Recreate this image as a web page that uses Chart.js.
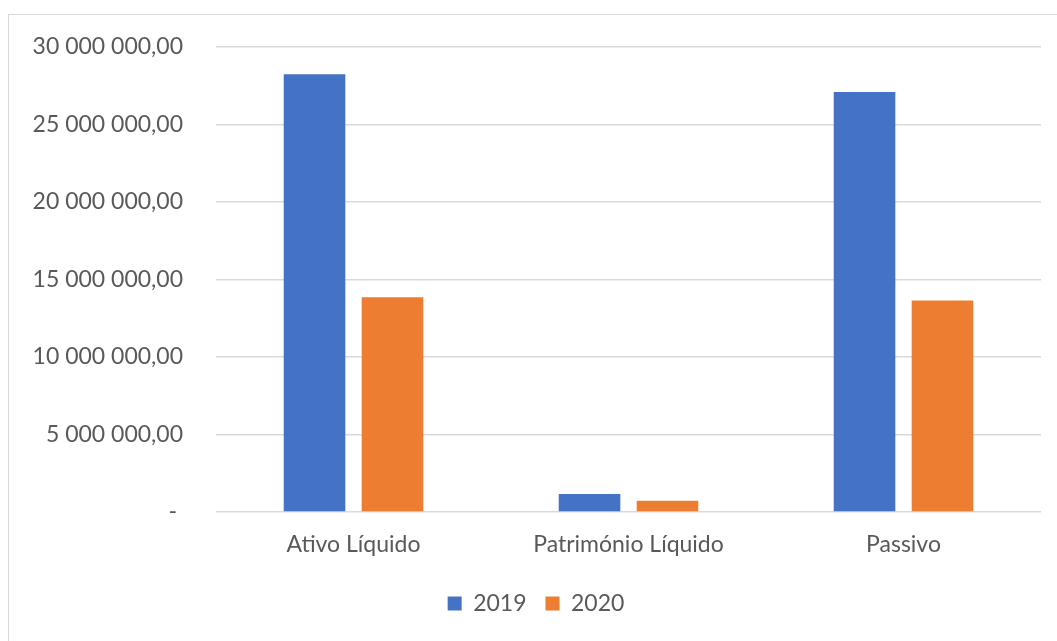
<!DOCTYPE html>
<html lang="pt">
<head>
  <meta charset="UTF-8">
  <title>Ativo / Património / Passivo</title>
  <script src="https://cdn.jsdelivr.net/npm/chart.js"></script>
  <style>
    html, body { margin: 0; padding: 0; background: #fff; overflow: hidden; }
    .frame {
      position: absolute; left: 8px; top: 14px;
      width: 1060px; height: 640px;
      border: 1px solid #d9d9d9;
    }
    .frame canvas { position: absolute; left: 0; top: 0; }
  </style>
</head>
<body>
  <div class="frame">
    <canvas id="myChart" width="1048" height="626"></canvas>
  </div>

  <script>
    // dados
    const categorias = ['Ativo Líquido', 'Património Líquido', 'Passivo'];
    const anos = ['2019', '2020'];
    const valores2019 = [28250000, 1160000, 27100000];
    const valores2020 = [13850000, 720000, 13650000];
    const yMax = 30000000;
    const yStep = 5000000;

    const cinza = '#595959';
    const fonte = { family: 'Lato, "Open Sans", sans-serif', size: 23 };

    // formato contabilístico: 25 000 000,00 e "-" para zero
    function formatar(v) {
      if (v === 0) return '- ';
      return String(v).replace(/\B(?=(\d{3})+(?!\d))/g, ' ') + ',00';
    }

    const ctx = document.getElementById('myChart').getContext('2d');
    const chart = new Chart(ctx, {
      type: 'bar',
      data: {
        labels: categorias,
        datasets: [
          { label: anos[0], data: valores2019, backgroundColor: '#4472C4' },
          { label: anos[1], data: valores2020, backgroundColor: '#ED7D31' }
        ]
      },
      options: {
        responsive: false,
        animation: false,
        categoryPercentage: 0.567,
        barPercentage: 0.79,
        layout: { padding: { top: 32, right: 16, left: 22, bottom: 16 } },
        plugins: {
          tooltip: { enabled: false },
          legend: {
            position: 'bottom',
            labels: {
              color: cinza,
              font: fonte,
              boxWidth: 14,
              boxHeight: 14,
              padding: 19
            }
          }
        },
        scales: {
          x: {
            grid: { display: false },
            border: { display: false },
            ticks: { color: cinza, font: fonte, padding: 11, maxRotation: 0 },
            afterFit: (s) => { s.height = 61; }
          },
          y: {
            min: 0,
            max: yMax,
            border: { display: false },
            grid: { color: '#d9d9d9', lineWidth: 1.5, tickLength: 28, tickColor: 'rgba(0,0,0,0)' },
            ticks: {
              stepSize: yStep,
              color: cinza,
              font: fonte,
              padding: 5,
              callback: (v) => formatar(v)
            },
            afterFit: (s) => { s.width = 185; }
          }
        }
      }
    });
  </script>
</body>
</html>
